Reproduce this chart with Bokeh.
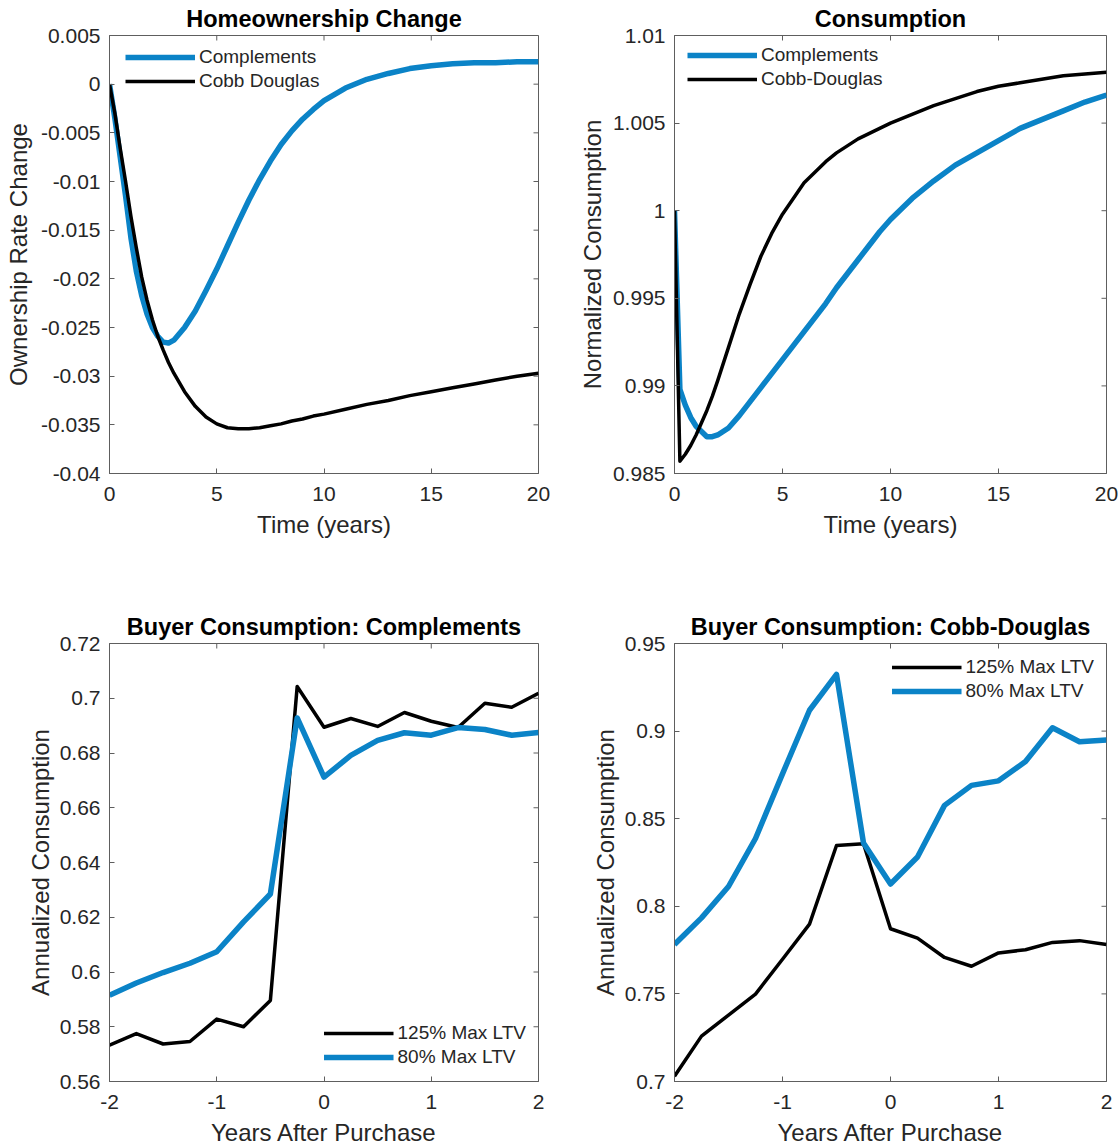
import math
from bokeh.plotting import figure
from bokeh.models import Range1d, FixedTicker, CustomJSTickFormatter
from bokeh.layouts import column, row
from bokeh.embed import file_html
from bokeh.resources import INLINE

# ---------------- data ----------------
# Panel 1: Homeownership change
t_own = [0, 0.25, 0.5, 0.75, 1, 1.25, 1.5, 1.75, 2, 2.25, 2.5, 2.75, 3,
         3.5, 4, 4.5, 5, 5.5, 6, 6.5, 7, 7.5, 8, 8.5, 9, 9.5, 10,
         11, 12, 13, 14, 15, 16, 17, 18, 19, 20]
own_complements = [0, -0.0035, -0.0075, -0.0115, -0.0158, -0.0192, -0.0217, -0.0236, -0.0250, -0.0259, -0.0265, -0.0266, -0.0263,
                   -0.0250, -0.0233, -0.0212, -0.0190, -0.0166, -0.0142, -0.0119, -0.0098, -0.0079, -0.0062, -0.0048, -0.0036, -0.0026, -0.0017,
                   -0.0004, 0.0005, 0.0011, 0.0016, 0.0019, 0.0021, 0.0022, 0.0022, 0.0023, 0.0023]
own_cobb = [0, -0.0030, -0.0066, -0.0100, -0.0136, -0.0168, -0.0198, -0.0222, -0.0242, -0.0259, -0.0273, -0.0286, -0.0297,
            -0.0316, -0.0331, -0.0342, -0.0349, -0.0353, -0.0354, -0.0354, -0.0353, -0.0351, -0.0349, -0.0346, -0.0344, -0.0341, -0.0339,
            -0.0334, -0.0329, -0.0325, -0.0320, -0.0316, -0.0312, -0.0308, -0.0304, -0.0300, -0.0297]

# Panel 2: Consumption
t_cons = [0, 0.25, 0.5, 0.75, 1, 1.25, 1.5, 1.75, 2, 2.5, 3, 3.5, 4, 4.5, 5, 5.5, 6, 6.5,
          7, 7.5, 8, 8.5, 9, 9.5, 10, 11, 12, 13, 14, 15, 16, 17, 18, 19, 20]
cons_complements = [1.0, 0.9898, 0.9889, 0.9882, 0.9877, 0.9874, 0.9871, 0.9871, 0.9872, 0.9876, 0.9883, 0.9891, 0.9899,
                    0.9907, 0.9915, 0.9923, 0.9931, 0.9939, 0.9947, 0.9956, 0.9964, 0.9972, 0.9980, 0.9988, 0.9995,
                    1.0007, 1.0017, 1.0026, 1.0033, 1.0040, 1.0047, 1.0052, 1.0057, 1.0062, 1.0066]
cons_cobb = [1.0, 0.9857, 0.9861, 0.9866, 0.9872, 0.9879, 0.9886, 0.9894, 0.9903, 0.9922, 0.9941, 0.9958, 0.9974,
             0.9987, 0.9998, 1.0007, 1.0016, 1.0022, 1.0028, 1.0033, 1.0037, 1.0041, 1.0044, 1.0047, 1.0050,
             1.0055, 1.0060, 1.0064, 1.0068, 1.0071, 1.0073, 1.0075, 1.0077, 1.0078, 1.0079]

# Panels 3 & 4: Buyer consumption around purchase (quarterly)
years_after = [-2, -1.75, -1.5, -1.25, -1, -0.75, -0.5, -0.25, 0, 0.25, 0.5, 0.75, 1, 1.25, 1.5, 1.75, 2]
comp_ltv125 = [0.5733, 0.5775, 0.5737, 0.5746, 0.5828, 0.5800, 0.5896, 0.7043, 0.6894, 0.6926, 0.6897, 0.6948,
               0.6916, 0.6893, 0.6982, 0.6967, 0.7018]
comp_ltv80 = [0.5915, 0.5960, 0.5998, 0.6032, 0.6074, 0.6183, 0.6285, 0.6928, 0.6712, 0.6791, 0.6846, 0.6874,
              0.6865, 0.6893, 0.6886, 0.6865, 0.6875]
cd_ltv125 = [0.7030, 0.7259, 0.7379, 0.7499, 0.7698, 0.7898, 0.8347, 0.8357, 0.7872, 0.7818, 0.7708, 0.7658,
             0.7734, 0.7752, 0.7794, 0.7804, 0.7782]
cd_ltv80 = [0.7782, 0.7934, 0.8113, 0.8387, 0.8756, 0.9119, 0.9324, 0.8361, 0.8127, 0.8281, 0.8576, 0.8690,
            0.8716, 0.8826, 0.9019, 0.8939, 0.8949]

# ticks
x_ticks_time = [0, 5, 10, 15, 20]
x_ticks_years = [-2, -1, 0, 1, 2]
y_ticks_own = [-0.04, -0.035, -0.03, -0.025, -0.02, -0.015, -0.01, -0.005, 0, 0.005]
y_ticks_cons = [0.985, 0.99, 0.995, 1.0, 1.005, 1.01]
y_ticks_comp = [0.56, 0.58, 0.6, 0.62, 0.64, 0.66, 0.68, 0.7, 0.72]
y_ticks_cd = [0.7, 0.75, 0.8, 0.85, 0.9, 0.95]

# ---------------- style ----------------
BLUE = "#0b83c7"
BLACK = "#000000"
AXIS = "#5e5e5e"
TXT = "#262626"
FONT = "Liberation Sans"
FH = 438

FMT_CODE = r"""
let s = tick.toFixed(3);
if (s.indexOf('.') >= 0) { s = s.replace(/0+$/, '').replace(/\.$/, ''); }
if (s === '-0') { s = '0'; }
return s;
"""


def style_axis(ax, ticks, is_x, label_standoff):
    ax.ticker = FixedTicker(ticks=ticks)
    ax.formatter = CustomJSTickFormatter(code=FMT_CODE)
    ax.major_tick_in = 5
    ax.major_tick_out = 0
    ax.minor_tick_in = 0
    ax.minor_tick_out = 0
    ax.axis_line_color = AXIS
    ax.major_tick_line_color = AXIS
    ax.major_label_text_font = FONT
    ax.major_label_text_color = TXT
    ax.major_label_text_font_size = "21px"
    ax.major_label_standoff = 13 if is_x else 9
    ax.axis_label_text_font = FONT
    ax.axis_label_text_font_size = "24px"
    ax.axis_label_text_font_style = "normal"
    ax.axis_label_text_color = TXT
    ax.axis_label_standoff = label_standoff


def make(title, xr, yr, xticks, yticks, xlabel, ylabel, fw, lb, rb, tb, bb, ylab_standoff):
    p = figure(frame_width=fw, frame_height=FH,
               min_border_left=lb, min_border_right=rb, min_border_top=tb, min_border_bottom=bb,
               x_range=Range1d(*xr), y_range=Range1d(*yr),
               toolbar_location=None, output_backend="svg",
               title=title, x_axis_label=xlabel, y_axis_label=ylabel)
    p.grid.visible = False
    p.outline_line_color = AXIS
    p.background_fill_color = "white"
    p.border_fill_color = "white"
    style_axis(p.below[0], xticks, True, 7)
    style_axis(p.left[0], yticks, False, ylab_standoff)
    # inward ticks on the top and right edges of the box
    p.ray(x=xticks, y=[yr[1]] * len(xticks), length=5, length_units="screen",
          angle=-math.pi / 2, line_color=AXIS, line_width=1)
    p.ray(x=[xr[1]] * len(yticks), y=yticks, length=5, length_units="screen",
          angle=math.pi, line_color=AXIS, line_width=1)
    p.title.text_font = FONT
    p.title.text_font_size = "23.5px"
    p.title.text_font_style = "bold"
    p.title.text_color = "black"
    p.title.align = "center"
    p.title.standoff = 7
    return p


def style_legend(lg, loc, margin):
    lg.location = loc
    lg.margin = margin
    lg.padding = 0
    lg.spacing = 0
    lg.border_line_color = None
    lg.background_fill_alpha = 0
    lg.glyph_width = 70
    lg.glyph_height = 24
    lg.label_height = 24
    lg.label_standoff = 4
    lg.label_text_font = FONT
    lg.label_text_font_size = "19px"
    lg.label_text_color = TXT


# Panel 1
p1 = make("Homeownership Change", (0, 20), (-0.04, 0.005), x_ticks_time, y_ticks_own,
          "Time (years)", "Ownership Rate Change", 429, 109, 24, 35, 117, 6)
p1.line(t_own, own_complements, line_color=BLUE, line_width=5.5, line_join="round", legend_label="Complements")
p1.line(t_own, own_cobb, line_color=BLACK, line_width=3.5, line_join="round", legend_label="Cobb Douglas")
style_legend(p1.legend[0], (16, 380), 0)

# Panel 2
p2 = make("Consumption", (0, 20), (0.985, 1.01), x_ticks_time, y_ticks_cons,
          "Time (years)", "Normalized Consumption", 432, 112, 12, 35, 117, 4)
p2.line(t_cons, cons_complements, line_color=BLUE, line_width=5.5, line_join="round", legend_label="Complements")
p2.line(t_cons, cons_cobb, line_color=BLACK, line_width=3.5, line_join="round", legend_label="Cobb-Douglas")
style_legend(p2.legend[0], (13, 382), 0)

# Panel 3
p3 = make("Buyer Consumption: Complements", (-2, 2), (0.56, 0.72), x_ticks_years, y_ticks_comp,
          "Years After Purchase", "Annualized Consumption", 429, 109, 24, 53, 66, 3)
p3.line(years_after, comp_ltv125, line_color=BLACK, line_width=3.5, line_join="round", legend_label="125% Max LTV")
p3.line(years_after, comp_ltv80, line_color=BLUE, line_width=5.5, line_join="round", legend_label="80% Max LTV")
style_legend(p3.legend[0], "bottom_right", 12)

# Panel 4
p4 = make("Buyer Consumption: Cobb-Douglas", (-2, 2), (0.7, 0.95), x_ticks_years, y_ticks_cd,
          "Years After Purchase", "Annualized Consumption", 432, 112, 12, 53, 66, 3)
p4.line(years_after, cd_ltv125, line_color=BLACK, line_width=3.5, line_join="round", legend_label="125% Max LTV")
p4.line(years_after, cd_ltv80, line_color=BLUE, line_width=5.5, line_join="round", legend_label="80% Max LTV")
style_legend(p4.legend[0], "top_right", 12)

layout = column(row(p1, p2), row(p3, p4))
open("out.html", "w").write(file_html(layout, INLINE))
